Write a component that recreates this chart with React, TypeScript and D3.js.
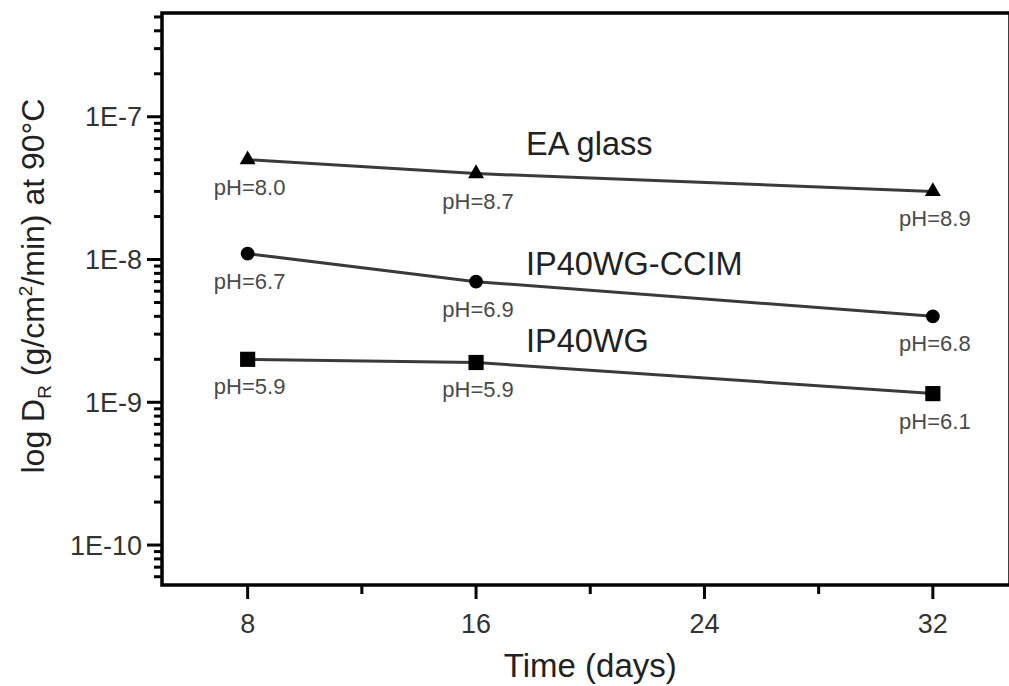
import React, { useEffect, useRef } from 'react';
import * as d3 from 'd3';

// time points (days)
const days = [8, 16, 32];

// dissolution rates, g/cm2/min
const eaGlass = [5e-8, 4e-8, 3e-8];
const ccim = [1.1e-8, 7e-9, 4e-9];
const ip40wg = [2e-9, 1.9e-9, 1.15e-9];

// pH read at each point
const eaPH = ['pH=8.0', 'pH=8.7', 'pH=8.9'];
const ccimPH = ['pH=6.7', 'pH=6.9', 'pH=6.8'];
const ip40wgPH = ['pH=5.9', 'pH=5.9', 'pH=6.1'];

const seriesNames = ['EA glass', 'IP40WG-CCIM', 'IP40WG'];
const markerShapes = ['triangle', 'circle', 'square'];
// where each series name sits (day, value)
const nameDay = [17.75, 17.75, 17.75];
const nameValue = [5.4e-8, 7.8e-9, 2.25e-9];

const xMajorTicks = [8, 16, 24, 32];
const xMinorTicks = [12, 20, 28];
const yMajorTicks = [1e-10, 1e-9, 1e-8, 1e-7];
const yTickLabels = ['1E-10', '1E-9', '1E-8', '1E-7'];

const W = 1009;
const H = 686;
const FONT = '"Liberation Sans", Arial, sans-serif';

const App = () => {
  const svgRef = useRef(null);

  useEffect(() => {
    const svg = d3.select(svgRef.current);
    svg.selectAll('*').remove();

    const left = 162, top = 13, bottom = 585;
    const x = d3.scaleLinear().domain([5, 35]).range([left, left + 30 * 28.55]);
    const y = d3.scaleLog().domain([5.25e-11, 5.33e-7]).range([bottom, top]);
    const right = 1010; // frame runs off the right edge of the picture

    // minor ticks on the log axis
    const yMinorTicks = [];
    for (let e = -11; e <= -7; e++) {
      for (let m = 2; m <= 9; m++) {
        const v = m * Math.pow(10, e);
        if (v >= y.domain()[0] && v <= y.domain()[1]) yMinorTicks.push(v);
      }
    }

    const g = svg.append('g');

    // y ticks
    g.selectAll('.ymaj').data(yMajorTicks).enter().append('line')
      .attr('x1', left - 15).attr('x2', left)
      .attr('y1', d => y(d)).attr('y2', d => y(d))
      .attr('stroke', '#000').attr('stroke-width', 3);
    g.selectAll('.ymin').data(yMinorTicks).enter().append('line')
      .attr('x1', left - 8).attr('x2', left)
      .attr('y1', d => y(d)).attr('y2', d => y(d))
      .attr('stroke', '#000').attr('stroke-width', 3);
    g.selectAll('.ylab').data(yMajorTicks).enter().append('text')
      .attr('x', left - 20).attr('y', d => y(d))
      .attr('dy', '0.36em')
      .attr('text-anchor', 'end')
      .style('font-family', FONT).style('font-size', '27px').style('fill', '#333')
      .text((d, i) => yTickLabels[i]);

    // x ticks
    g.selectAll('.xmaj').data(xMajorTicks).enter().append('line')
      .attr('x1', d => x(d)).attr('x2', d => x(d))
      .attr('y1', bottom).attr('y2', bottom + 14)
      .attr('stroke', '#000').attr('stroke-width', 3);
    g.selectAll('.xmin').data(xMinorTicks).enter().append('line')
      .attr('x1', d => x(d)).attr('x2', d => x(d))
      .attr('y1', bottom).attr('y2', bottom + 9)
      .attr('stroke', '#000').attr('stroke-width', 3);
    g.selectAll('.xlab').data(xMajorTicks).enter().append('text')
      .attr('x', d => x(d)).attr('y', bottom + 48)
      .attr('text-anchor', 'middle')
      .style('font-family', FONT).style('font-size', '27px').style('fill', '#333')
      .text(d => d);

    // frame
    g.append('rect')
      .attr('x', left).attr('y', top)
      .attr('width', right - left).attr('height', bottom - top)
      .attr('fill', 'none').attr('stroke', '#000').attr('stroke-width', 3.5);

    // series
    const series = [
      { values: eaGlass, ph: eaPH },
      { values: ccim, ph: ccimPH },
      { values: ip40wg, ph: ip40wgPH },
    ];
    const line = d3.line().x(d => x(d[0])).y(d => y(d[1]));
    const symbols = { triangle: d3.symbolTriangle, circle: d3.symbolCircle, square: d3.symbolSquare };
    const sizes = { triangle: 110, circle: 150, square: 230 };

    series.forEach((s, i) => {
      const pts = days.map((d, j) => [d, s.values[j]]);
      g.append('path')
        .attr('d', line(pts))
        .attr('fill', 'none').attr('stroke', '#3a3a3a').attr('stroke-width', 3);

      const shape = markerShapes[i];
      g.selectAll('.m' + i).data(pts).enter().append('path')
        .attr('transform', d => `translate(${x(d[0])},${y(d[1])})`)
        .attr('d', d3.symbol().type(symbols[shape]).size(sizes[shape]))
        .attr('fill', '#000');

      g.selectAll('.ph' + i).data(pts).enter().append('text')
        .attr('x', d => x(d[0]) + 2).attr('y', d => y(d[1]) + 35)
        .attr('text-anchor', 'middle')
        .style('font-family', FONT).style('font-size', '22px').style('fill', '#4a4a4a')
        .text((d, j) => s.ph[j]);

      g.append('text')
        .attr('x', x(nameDay[i])).attr('y', y(nameValue[i]))
        .style('font-family', FONT).style('font-size', '32.5px').style('fill', '#222')
        .text(seriesNames[i]);
    });

    // axis titles
    g.append('text')
      .attr('x', x(20)).attr('y', 677)
      .attr('text-anchor', 'middle')
      .style('font-family', FONT).style('font-size', '33px').style('fill', '#222')
      .text('Time (days)');

    const yt = g.append('text')
      .attr('transform', 'translate(44,286) rotate(-90)')
      .attr('text-anchor', 'middle')
      .style('font-family', FONT).style('font-size', '32px').style('fill', '#222');
    yt.append('tspan').text('log D');
    yt.append('tspan').attr('dy', 7).style('font-size', '19px').text('R');
    yt.append('tspan').attr('dy', -7).text(' (g/cm');
    yt.append('tspan').attr('dy', -12).style('font-size', '19px').text('2');
    yt.append('tspan').attr('dy', 12).text('/min) at 90°C');
  }, []);

  return (
    <svg ref={svgRef} width={W} height={H} viewBox={`0 0 ${W} ${H}`}
      style={{ position: 'absolute', left: 0, top: 0, background: '#fff' }}></svg>
  );
};

export default App;
